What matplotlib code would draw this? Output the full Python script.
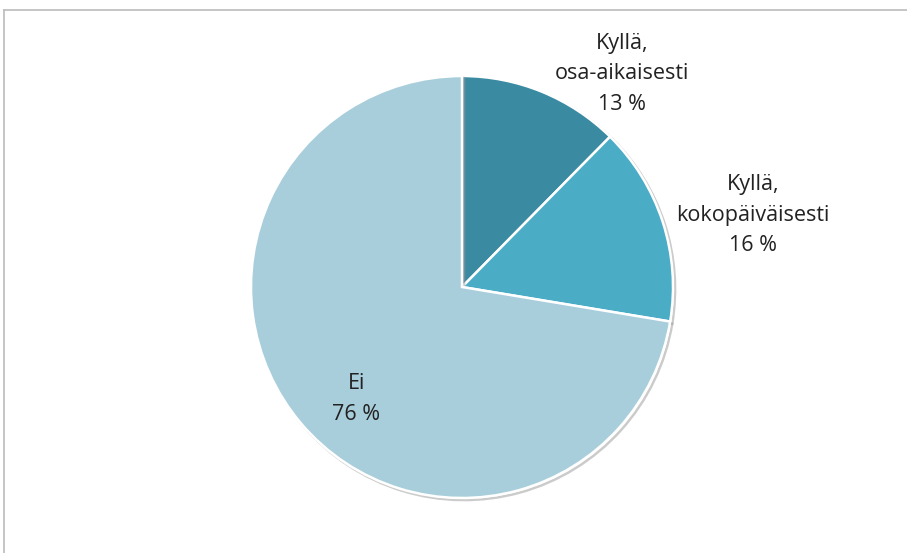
import matplotlib.pyplot as plt
import matplotlib.patheffects as pe

# Data
labels = ['Kyllä,\nosa-aikaisesti', 'Kyllä,\nkokopäiväisesti', 'Ei']
values = [13, 16, 76]
colors = ['#3A8AA2', '#4BACC6', '#A9CEDB']

# label positions in pie units (radius = 1), like Excel best-fit
label_pos = [(0.76, 1.01), (1.38, 0.34), (-0.50, -0.53)]

plt.rcParams['font.family'] = ['Open Sans', 'DejaVu Sans']

W, H = 907, 553
fig = plt.figure(figsize=(W / 100, H / 100), dpi=100)

# pie centre (462, 287) px, radius 211 px
cx, cy, r = 462, 287, 211
ax = fig.add_axes([(cx - r) / W, (H - cy - r) / H, 2 * r / W, 2 * r / H])
wedges, _ = ax.pie(values, colors=colors, startangle=90, counterclock=False,
                   wedgeprops=dict(edgecolor='white', linewidth=1.8),
                   radius=1)
for w in wedges:
    w.set_path_effects([pe.SimpleLineShadow(offset=(1.5, -1.5), shadow_color='#999999', alpha=0.5),
                        pe.Normal()])
ax.set_xlim(-1, 1)
ax.set_ylim(-1, 1)
ax.axis('off')

for lab, v, (x, y) in zip(labels, values, label_pos):
    ax.text(x, y, f'{lab}\n{v} %', ha='center', va='center', fontsize=15.5,
            color='#222222', linespacing=1.6)

# chart frame (top and left edges visible)
fig.add_artist(plt.Line2D([4 / W, 4 / W], [0, 1 - 10 / H], color='#BBBBBB', lw=1.2))
fig.add_artist(plt.Line2D([4 / W, 1], [1 - 10 / H, 1 - 10 / H], color='#BBBBBB', lw=1.2))

fig.savefig('out.png', dpi=100)
